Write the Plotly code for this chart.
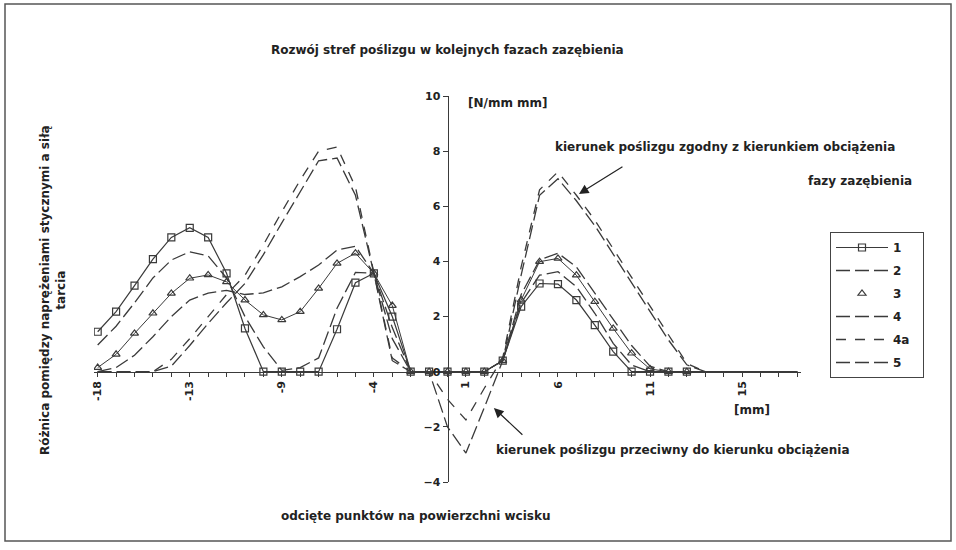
import plotly.graph_objects as go

# ---------------- data ----------------
idx = list(range(39))  # category positions along the x axis
tick_pos = [0, 5, 10, 15, 20, 25, 30, 35]
tick_text = ["-18", "-13", "-9", "-4", "1", "6", "11", "15"]

s1 = [1.45, 2.18, 3.12, 4.08, 4.87, 5.22, 4.87, 3.57, 1.57, 0, 0, 0, 0, 1.54, 3.23, 3.57, 2.0, 0, 0, 0,
      0, 0, 0.4, 2.36, 3.2, 3.18, 2.6, 1.69, 0.73, 0, 0, 0, 0]
s2 = [0.97, 1.65, 2.5, 3.4, 4.05, 4.35, 4.2, 3.4, 2.0, 0.9, 0.05, 0.15, 0.5, 2.3, 3.6, 3.57, 1.6, 0, 0, 0,
      0, 0, 0.4, 2.5, 3.5, 3.63, 3.08, 2.12, 1.03, 0.24, 0, 0, 0, 0, 0, 0, 0, 0, 0]
s3 = [0.15, 0.63, 1.39, 2.12, 2.84, 3.39, 3.51, 3.26, 2.6, 2.06, 1.88, 2.18, 3.02, 3.93, 4.3, 3.57, 2.4, 0, 0, 0,
      0, 0, 0.4, 2.6, 3.99, 4.11, 3.5, 2.54, 1.57, 0.67, 0.1, 0, 0]
s4 = [0, 0.15, 0.6, 1.27, 2.0, 2.6, 2.85, 2.95, 2.8, 2.86, 3.08, 3.45, 3.87, 4.41, 4.55, 3.57, 1.2, 0, 0, 0,
      0, 0, 0.4, 2.8, 4.05, 4.3, 3.8, 2.84, 1.87, 0.95, 0.2, 0, 0, 0, 0, 0, 0, 0, 0]
s4a = [0, 0, 0, 0, 0.45, 1.2, 2.0, 2.8, 3.5, 4.6, 5.8, 6.95, 8.0, 8.15, 6.7, 3.57, 0.5, 0, 0, -1.0,
       -1.75, -0.6, 0.5, 3.8, 6.6, 7.25, 6.4, 5.5, 4.45, 3.4, 2.35, 1.3, 0.3, 0, 0, 0, 0, 0, 0]
s5 = [0, 0, 0, 0, 0.2, 0.95, 1.75, 2.5, 3.2, 4.25, 5.4, 6.55, 7.65, 7.75, 6.4, 3.57, 0.4, 0, 0, -2.0,
      -2.95, -1.3, 0.4, 3.5, 6.4, 7.0, 6.2, 5.3, 4.25, 3.2, 2.15, 1.15, 0.25, 0, 0, 0, 0, 0, 0]

# ---------------- layout helpers ----------------
W, H = 956, 550
ML, MR, MT, MB = 94, 155, 96, 68
PW, PH = W - ML - MR, H - MT - MB


def px(xp):
    return (xp - ML) / PW


def py(yp):
    return (H - MB - yp) / PH


LINE = "#3a3a3a"
TXT = "#222222"
FONT = "DejaVu Sans"

fig = go.Figure()

pad = "\u00a0" * 2


def add_line(y, name, dash, width=1.3):
    fig.add_trace(go.Scatter(
        x=idx[:len(y)], y=y, mode="lines", name=name + pad,
        line=dict(color=LINE, width=width, dash=dash),
        legendgroup=name, showlegend=True))


# series 1: solid with open squares
fig.add_trace(go.Scatter(
    x=idx[:len(s1)], y=s1, mode="lines+markers", name="1" + pad, legendgroup="1",
    line=dict(color=LINE, width=1.2),
    marker=dict(symbol="square-open", size=7, color=LINE, line=dict(width=1.2))))
add_line(s2, "2", "14px,5px")
# series 3: thin line + open triangles (legend shows marker only)
fig.add_trace(go.Scatter(
    x=idx[:len(s3)], y=s3, mode="lines", showlegend=False, legendgroup="3",
    line=dict(color=LINE, width=1.0)))
fig.add_trace(go.Scatter(
    x=idx[:len(s3)], y=s3, mode="markers", name="3" + pad, legendgroup="3",
    marker=dict(symbol="triangle-up-open", size=7, color=LINE, line=dict(width=1.2))))
add_line(s4, "4", "14px,5px")
add_line(s4a, "4a", "10px,9px")
add_line(s5, "5", "14px,5px")

tickfont = dict(family=FONT, size=11, color=TXT, weight="bold")

fig.update_layout(
    width=W, height=H,
    margin=dict(l=ML, r=MR, t=MT, b=MB),
    paper_bgcolor="white", plot_bgcolor="white",
    showlegend=True,
    legend=dict(x=px(830), y=py(232), xanchor="left", yanchor="top",
                bgcolor="white", bordercolor="#444", borderwidth=1,
                font=dict(family=FONT, size=12, color=TXT, weight="bold"),
                itemwidth=52, tracegroupgap=4, traceorder="grouped"),
    xaxis=dict(range=[-0.2, 38.2], anchor="free", position=4 / 14,
               showgrid=False, zeroline=False, showline=True, linecolor=LINE, linewidth=1,
               tickmode="array", tickvals=tick_pos, ticktext=tick_text, tickangle=-90,
               ticks="outside", ticklen=4, tickcolor=LINE, tickfont=tickfont,
               minor=dict(dtick=1, tick0=0, ticks="outside", ticklen=4, tickcolor=LINE)),
    yaxis=dict(range=[-4, 10], anchor="free", position=0.5, side="left",
               showgrid=False, zeroline=False, showline=True, linecolor=LINE, linewidth=1,
               dtick=2, ticks="outside", ticklen=5, tickcolor=LINE, tickfont=tickfont),
    # companion axes giving the cross-shaped tick marks
    xaxis2=dict(range=[-0.2, 38.2], overlaying="x", anchor="free", position=4 / 14,
                showgrid=False, zeroline=False, showline=False, showticklabels=False,
                tickmode="array", tickvals=tick_pos, ticks="inside", ticklen=4, tickcolor=LINE,
                minor=dict(dtick=1, tick0=0, ticks="inside", ticklen=4, tickcolor=LINE)),
    yaxis2=dict(range=[-4, 10], overlaying="y", anchor="free", position=0.5, side="left",
                showgrid=False, zeroline=False, showline=False, showticklabels=False,
                dtick=2, ticks="inside", ticklen=5, tickcolor=LINE),
)

afont = dict(family=FONT, size=12, color=TXT, weight="bold")
texts = [
    ("Rozwój stref poślizgu w kolejnych fazach zazębienia", 447, 50, "center"),
    ("[N/mm mm]", 466, 103, "left"),
    ("kierunek poślizgu zgodny z kierunkiem obciążenia", 725, 147, "center"),
    ("fazy zazębienia", 860, 181, "center"),
    ("kierunek poślizgu przeciwny do kierunku obciążenia", 673, 450, "center"),
    ("odcięte punktów na powierzchni wcisku", 416, 516, "center"),
    ("[mm]", 752, 410, "center"),
]
for t, x, y, al in texts:
    fig.add_annotation(text=t, x=px(x), y=py(y), xref="paper", yref="paper",
                       xanchor=al, yanchor="middle", showarrow=False, font=afont)

fig.add_annotation(text="Różnica pomiędzy naprężeniami stycznymi a siłą<br>tarcia",
                   x=px(53), y=py(290), xref="paper", yref="paper", textangle=-90,
                   xanchor="center", yanchor="middle",
                   showarrow=False, font=afont, align="center")

# arrows
fig.add_annotation(text="", x=26.14, y=6.45, xref="x", yref="y", ax=45, ay=-28,
                   showarrow=True, arrowhead=2, arrowsize=1.6, arrowwidth=1.2, arrowcolor=TXT)
fig.add_annotation(text="", x=21.52, y=-1.32, xref="x", yref="y", ax=30, ay=28,
                   showarrow=True, arrowhead=2, arrowsize=1.6, arrowwidth=1.2, arrowcolor=TXT)

# outer frame
fig.add_shape(type="rect", xref="paper", yref="paper",
              x0=px(5), x1=px(951), y0=py(541), y1=py(4),
              line=dict(color="#555", width=1.5), fillcolor="rgba(0,0,0,0)")

fig.write_html("out.html", config={"displayModeBar": False},
               post_script="document.body.style.margin='0';")
